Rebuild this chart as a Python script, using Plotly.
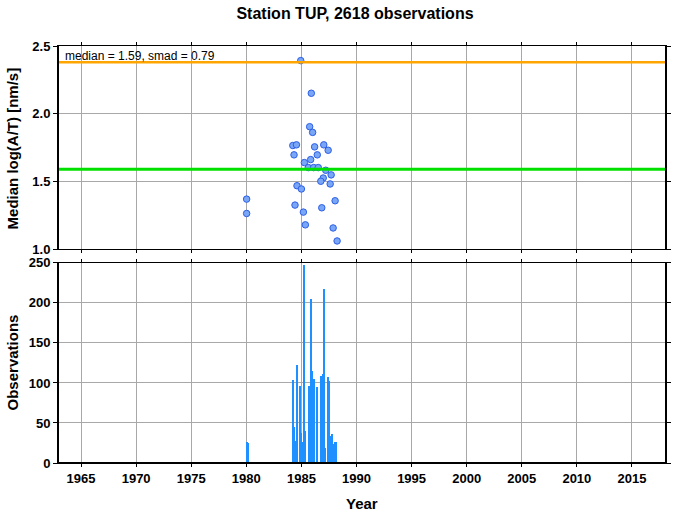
import plotly.graph_objects as go

# ---- data ----
title_text = "Station TUP, 2618 observations"
median_value = 1.59
smad_value = 0.79

med_year = [1980.03, 1980.03, 1984.94, 1985.90, 1985.75, 1986.02, 1984.22, 1984.55,
            1986.20, 1987.03, 1987.43, 1984.33, 1986.44, 1985.84, 1985.27, 1985.63,
            1986.11, 1986.53, 1987.21, 1987.70, 1986.98, 1986.76, 1987.61, 1984.60,
            1985.00, 1988.06, 1984.42, 1986.85, 1985.18, 1985.36, 1987.88, 1988.24]
med_val = [1.369, 1.263, 2.392, 2.151, 1.904, 1.862, 1.765, 1.770,
           1.755, 1.770, 1.730, 1.696, 1.696, 1.661, 1.639, 1.602,
           1.602, 1.602, 1.582, 1.548, 1.525, 1.501, 1.481, 1.468,
           1.444, 1.357, 1.325, 1.305, 1.273, 1.179, 1.156, 1.060]

obs_year = [1980.04, 1980.15,
            1984.26, 1984.35, 1984.44, 1984.53, 1984.60, 1984.89, 1984.98, 1985.07,
            1985.26, 1985.35, 1985.66, 1985.77, 1985.88, 1985.98, 1986.09, 1986.18,
            1986.43, 1986.79, 1986.92, 1987.03, 1987.16, 1987.39, 1987.51, 1987.63,
            1987.75, 1987.88, 1988.02, 1988.15]
obs_count = [27, 25,
             104, 45, 28, 28, 122, 96, 38, 27,
             247, 40, 96, 92, 205, 115, 65, 105,
             95, 109, 111, 217, 19, 107, 102, 34,
             37, 24, 26, 26]

year_ticks = list(range(1965, 2016, 5))
top_ticks = [1.0, 1.5, 2.0, 2.5]
bottom_ticks = [0, 50, 100, 150, 200, 250]

FONT = "Liberation Sans, Arial, sans-serif"

fig = go.Figure()

fig.add_trace(go.Bar(
    x=obs_year, y=obs_count, width=0.09,
    marker=dict(color="#1E90FF", line=dict(width=0)),
    xaxis="x2", yaxis="y2", showlegend=False))

fig.add_trace(go.Scatter(
    x=med_year, y=med_val, mode="markers",
    marker=dict(size=6.5, color="rgb(122,166,246)", line=dict(color="rgb(45,95,230)", width=1)),
    xaxis="x", yaxis="y", showlegend=False))

upper = median_value + smad_value
fig.add_shape(type="line", xref="x domain", yref="y", x0=0, x1=1, y0=upper, y1=upper,
              line=dict(color="#FFA500", width=2.5))
fig.add_shape(type="line", xref="x domain", yref="y", x0=0, x1=1, y0=median_value, y1=median_value,
              line=dict(color="#00E000", width=3))

# thicker bottom frame on lower panel
fig.add_shape(type="line", xref="x2 domain", yref="y2 domain", x0=0, x1=1, y0=0, y1=0,
              line=dict(color="black", width=2))

common_x = dict(range=[1963, 2018], tickvals=year_ticks, showgrid=True, gridcolor="#A8A8A8",
                gridwidth=1, showline=True, linecolor="black", linewidth=1, mirror="allticks",
                ticks="outside", ticklen=3, tickcolor="black", zeroline=False)

fig.update_layout(
    width=677, height=511,
    margin=dict(l=59, r=6, t=46, b=48),
    paper_bgcolor="white", plot_bgcolor="white",
    font=dict(family=FONT, size=13, color="black", weight="bold"),
    title=dict(text=title_text, x=355/677, xanchor="center", y=1-13/511, yanchor="middle",
               font=dict(size=16, family=FONT, weight="bold")),
    bargap=0,
    xaxis=dict(domain=[0, 1], anchor="y", showticklabels=False, **common_x),
    xaxis2=dict(domain=[0, 1], anchor="y2", matches="x", showticklabels=True, **common_x),
    yaxis=dict(domain=[0.513, 1], range=[1.0, 2.5], tickvals=top_ticks, tickformat=".1f",
               showgrid=True, gridcolor="#A8A8A8", gridwidth=1, showline=True, linecolor="black",
               linewidth=2, mirror="allticks", ticks="outside", ticklen=4, tickcolor="black",
               zeroline=False),
    yaxis2=dict(domain=[0, 0.480], range=[0, 250], tickvals=bottom_ticks,
                showgrid=True, gridcolor="#A8A8A8", gridwidth=1, showline=True, linecolor="black",
                linewidth=2, mirror="allticks", ticks="outside", ticklen=4, tickcolor="black",
                zeroline=False),
)

fig.add_annotation(text=f"median = {median_value:.2f}, smad = {smad_value:.2f}",
                   xref="x domain", yref="y domain", x=0.006, y=0.995,
                   xanchor="left", yanchor="top", showarrow=False,
                   font=dict(size=12, family=FONT, weight="normal"))

fig.add_annotation(text="Median log(A/T) [nm/s]", xref="paper", yref="paper",
                   x=(12-59)/612, y=1-(148-46)/417, textangle=-90,
                   xanchor="center", yanchor="middle", showarrow=False,
                   font=dict(size=15, family=FONT, weight="bold"))
fig.add_annotation(text="Observations", xref="paper", yref="paper",
                   x=(12-59)/612, y=1-(362-46)/417, textangle=-90,
                   xanchor="center", yanchor="middle", showarrow=False,
                   font=dict(size=15, family=FONT, weight="bold"))
fig.add_annotation(text="Year", xref="paper", yref="paper",
                   x=(365-59)/612, y=-(503-463)/417,
                   xanchor="center", yanchor="middle", showarrow=False,
                   font=dict(size=15, family=FONT, weight="bold"))

fig.write_html("out.html", config={"displayModeBar": False},
               post_script="document.body.style.margin='0';")
